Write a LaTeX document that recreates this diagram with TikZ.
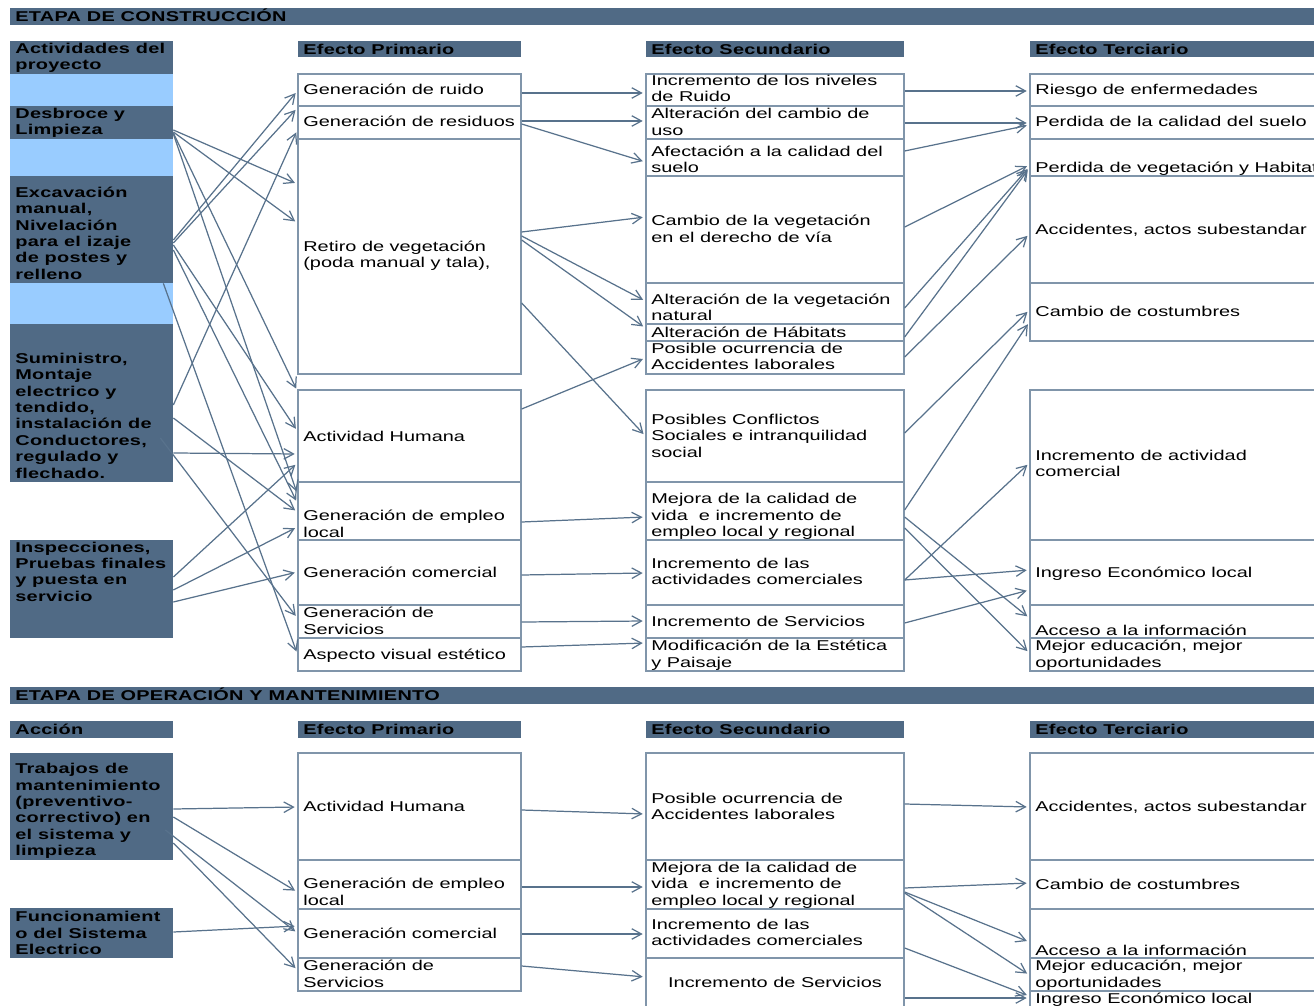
\documentclass[tikz,border=0pt]{standalone}
\usepackage{fontspec}
\newfontfamily\diagfont[FakeStretch=1.4]{Liberation Sans}
\newfontfamily\diagbold[FakeStretch=1.4,LetterSpace=2]{Liberation Sans Bold}
\usetikzlibrary{arrows.meta,fit,calc}
\definecolor{slate}{RGB}{80,106,133}
\definecolor{sky}{RGB}{153,204,255}
\definecolor{rulec}{RGB}{128,149,170}
\definecolor{link}{RGB}{88,114,140}
% \mkbox{style}{name}{x1}{y1}{x2}{y2}: a named rectangle spanning two corners
\newcommand{\mkbox}[6]{\node[#1, fit={(#3,#4) (#5,#6)}] (#2) {};}
\begin{document}
\begin{tikzpicture}[x=0.02cm,y=-0.02cm,
  box/.style={draw=rulec, line width=0.75pt, fill=white, inner sep=0pt},
  band/.style={fill=slate, draw=none, inner sep=0pt},
  pale/.style={fill=sky, draw=none, inner sep=0pt},
  txt/.style={inner sep=0pt, anchor=west, align=left, text=black, yshift=-1.2pt,
    font=\diagfont\fontsize{8.1}{9.3}\selectfont,
    execute at begin node=\strut, execute at end node=\strut},
  btxt/.style={txt, font=\diagbold\fontsize{8.1}{9.3}\selectfont},
  arr/.style={draw=link, line width=0.7pt,
    -{Straight Barb[length=5.5pt,width=6pt]}, shorten >=1.5pt}
]
\useasboundingbox (0,0) rectangle (1314,1006);
\fill[white] (0,0) rectangle (1314,1006);
\clip (0,0) rectangle (1314,1006);

% ---------------- construction stage ----------------
\mkbox{band}{banA}{10}{8}{1330}{25}
\mkbox{band}{hAct}{10}{41}{173}{74}
\mkbox{band}{hPriA}{298}{41}{521}{57}
\mkbox{band}{hSecA}{646}{41}{904}{57}
\mkbox{band}{hTerA}{1030}{41}{1330}{57}
% activities
\mkbox{pale}{gapA}{10}{74}{173}{106}
\mkbox{band}{dsb}{10}{106}{173}{139}
\mkbox{pale}{gapB}{10}{139}{173}{176}
\mkbox{band}{exc}{10}{176}{173}{283}
\mkbox{pale}{gapC}{10}{283}{173}{324}
\mkbox{band}{sum}{10}{324}{173}{482}
\mkbox{band}{insp}{10}{540}{173}{638}
% primary effects
\mkbox{box}{ruido}{298}{74}{521}{106}
\mkbox{box}{resid}{298}{106}{521}{139}
\mkbox{box}{retiro}{298}{139}{521}{374}
\mkbox{box}{acth}{298}{390}{521}{482}
\mkbox{box}{empleo}{298}{482}{521}{540}
\mkbox{box}{comer}{298}{540}{521}{605}
\mkbox{box}{serv}{298}{605}{521}{638}
\mkbox{box}{visual}{298}{638}{521}{671}
% secondary effects
\mkbox{box}{sruido}{646}{74}{904}{106}
\mkbox{box}{suso}{646}{106}{904}{139}
\mkbox{box}{ssuelo}{646}{139}{904}{176}
\mkbox{box}{sveg}{646}{176}{904}{283}
\mkbox{box}{snat}{646}{283}{904}{324}
\mkbox{box}{shab}{646}{324}{904}{341}
\mkbox{box}{sacc}{646}{341}{904}{374}
\mkbox{box}{sconf}{646}{390}{904}{482}
\mkbox{box}{smej}{646}{482}{904}{540}
\mkbox{box}{scom}{646}{540}{904}{605}
\mkbox{box}{sserv}{646}{605}{904}{638}
\mkbox{box}{sest}{646}{638}{904}{671}
% tertiary effects
\mkbox{box}{triesgo}{1030}{74}{1330}{106}
\mkbox{box}{tsuelo}{1030}{106}{1330}{139}
\mkbox{box}{tveg}{1030}{139}{1330}{176}
\mkbox{box}{tacc}{1030}{176}{1330}{283}
\mkbox{box}{tcost}{1030}{283}{1330}{341}
\mkbox{box}{tcom}{1030}{390}{1330}{540}
\mkbox{box}{ting}{1030}{540}{1330}{605}
\mkbox{box}{tinfo}{1030}{605}{1330}{638}
\mkbox{box}{tedu}{1030}{638}{1330}{671}

% ---------------- operation stage ----------------
\mkbox{band}{banB}{10}{687}{1330}{704}
\mkbox{band}{hAcc}{10}{721}{173}{738}
\mkbox{band}{hPriB}{298}{721}{521}{738}
\mkbox{band}{hSecB}{646}{721}{904}{738}
\mkbox{band}{hTerB}{1030}{721}{1330}{738}
\mkbox{band}{trab}{10}{753}{173}{860}
\mkbox{band}{func}{10}{908}{173}{958}
\mkbox{box}{acthB}{298}{753}{521}{860}
\mkbox{box}{empleoB}{298}{860}{521}{909}
\mkbox{box}{comerB}{298}{909}{521}{958}
\mkbox{box}{servB}{298}{958}{521}{991}
\mkbox{box}{saccB}{646}{753}{904}{860}
\mkbox{box}{smejB}{646}{860}{904}{909}
\mkbox{box}{scomB}{646}{909}{904}{958}
\mkbox{box}{sservB}{646}{958}{904}{1030}
\mkbox{box}{taccB}{1030}{753}{1330}{860}
\mkbox{box}{tcostB}{1030}{860}{1330}{909}
\mkbox{box}{tinfoB}{1030}{909}{1330}{958}
\mkbox{box}{teduB}{1030}{958}{1330}{991}
\mkbox{box}{tingB}{1030}{991}{1330}{1030}

% ---------------- labels ----------------
\node[btxt] (lbanA) at (15,16) {ETAPA DE CONSTRUCCIÓN};
\node[btxt] (lhAct) at (15,56.5) {Actividades del\\proyecto};
\node[btxt] (lhPriA) at (303,49) {Efecto Primario};
\node[btxt] (lhSecA) at (651,49) {Efecto Secundario};
\node[btxt] (lhTerA) at (1035,49) {Efecto Terciario};
\node[btxt] (ldsb) at (15,122) {Desbroce y\\Limpieza};
\node[btxt] (lexc) at (15,233.5) {Excavación\\manual,\\Nivelación\\para el izaje\\de postes y\\relleno};
\node[btxt] (lsum) at (15,416) {Suministro,\\Montaje\\electrico y\\tendido,\\instalación de\\Conductores,\\regulado y\\flechado.};
\node[btxt] (linsp) at (15,572) {Inspecciones,\\Pruebas finales\\y puesta en\\servicio};

\node[txt] (lruido) at (303,89) {Generación de ruido};
\node[txt] (lresid) at (303,121) {Generación de residuos};
\node[txt] (lretiro) at (303,254.5) {Retiro de vegetación\\(poda manual y tala),};
\node[txt] (lacth) at (303,436) {Actividad Humana};
\node[txt] (lempleo) at (303,524) {Generación de empleo\\local};
\node[txt] (lcomer) at (303,572) {Generación comercial};
\node[txt] (lserv) at (303,621) {Generación de\\Servicios};
\node[txt] (lvisual) at (303,654) {Aspecto visual estético};

\node[txt] (lsruido) at (651,89) {Incremento de los niveles\\de Ruido};
\node[txt] (lsuso) at (651,122) {Alteración del cambio de\\uso};
\node[txt] (lssuelo) at (651,159.5) {Afectación a la calidad del\\suelo};
\node[txt] (lsveg) at (651,229) {Cambio de la vegetación\\en el derecho de vía};
\node[txt] (lsnat) at (651,307.5) {Alteración de la vegetación\\natural};
\node[txt] (lshab) at (651,332) {Alteración de Hábitats};
\node[txt] (lsacc) at (651,357) {Posible ocurrencia de\\Accidentes laborales};
\node[txt] (lsconf) at (651,436) {Posibles Conflictos\\Sociales e intranquilidad\\social};
\node[txt] (lsmej) at (651,515.5) {Mejora de la calidad de\\vida\ \ e incremento de\\empleo local y regional};
\node[txt] (lscom) at (651,572) {Incremento de las\\actividades comerciales};
\node[txt] (lsserv) at (651,621) {Incremento de Servicios};
\node[txt] (lsest) at (651,654) {Modificación de la Estética\\y Paisaje};

\node[txt] (ltriesgo) at (1035,89) {Riesgo de enfermedades};
\node[txt] (ltsuelo) at (1035,121) {Perdida de la calidad del suelo};
\node[txt] (ltveg) at (1035,167) {Perdida de vegetación y Habitat};
\node[txt] (ltacc) at (1035,229) {Accidentes, actos subestandar};
\node[txt] (ltcost) at (1035,311) {Cambio de costumbres};
\node[txt] (ltcom) at (1035,464) {Incremento de actividad\\comercial};
\node[txt] (lting) at (1035,572) {Ingreso Económico local};
\node[txt] (ltinfo) at (1035,630) {Acceso a la información};
\node[txt] (ltedu) at (1035,654) {Mejor educación, mejor\\oportunidades};

\node[btxt] (lbanB) at (15,695) {ETAPA DE OPERACIÓN Y MANTENIMIENTO};
\node[btxt] (lhAcc) at (15,729) {Acción};
\node[btxt] (lhPriB) at (303,729) {Efecto Primario};
\node[btxt] (lhSecB) at (651,729) {Efecto Secundario};
\node[btxt] (lhTerB) at (1035,729) {Efecto Terciario};
\node[btxt] (ltrab) at (15,810) {Trabajos de\\mantenimiento\\(preventivo-\\correctivo) en\\el sistema y\\limpieza};
\node[btxt] (lfunc) at (15,933.5) {Funcionamient\\o del Sistema\\Electrico};
\node[txt] (lacthB) at (303,806) {Actividad Humana};
\node[txt] (lempleoB) at (303,892) {Generación de empleo\\local};
\node[txt] (lcomerB) at (303,933) {Generación comercial};
\node[txt] (lservB) at (303,974) {Generación de\\Servicios};
\node[txt] (lsaccB) at (651,806.5) {Posible ocurrencia de\\Accidentes laborales};
\node[txt] (lsmejB) at (651,884) {Mejora de la calidad de\\vida\ \ e incremento de\\empleo local y regional};
\node[txt] (lscomB) at (651,933) {Incremento de las\\actividades comerciales};
\node[txt, anchor=center] (lsservB) at (775,982) {Incremento de Servicios};
\node[txt] (ltaccB) at (1035,806) {Accidentes, actos subestandar};
\node[txt] (ltcostB) at (1035,884) {Cambio de costumbres};
\node[txt] (ltinfoB) at (1035,950) {Acceso a la información};
\node[txt] (lteduB) at (1035,974) {Mejor educación, mejor\\oportunidades};
\node[txt] (ltingB) at (1035,998) {Ingreso Económico local};

% ---------------- connectors: construction ----------------
\coordinate (excfoot) at ($(exc.south east)+(-10,0)$);
\coordinate (sumin) at ($(sum.east |- 0,438)+(-13,0)$);
\draw[arr] (dsb.east |- 0,130) -- (retiro.west |- 0,184);
\draw[arr] (dsb.east |- 0,132) -- (retiro.west |- 0,223);
\draw[arr] (dsb.east |- 0,133) -- (acth.west |- 0,391);
\draw[arr] (dsb.east |- 0,134) -- (empleo.west |- 0,494);
\draw[arr] (exc.east |- 0,240) -- (ruido.west |- 0,91);
\draw[arr] (exc.east |- 0,243) -- (resid.west |- 0,108);
\draw[arr] (exc.east |- 0,245) -- (acth.west |- 0,431);
\draw[arr] (exc.east |- 0,250) -- (empleo.west |- 0,503);
\draw[arr] (excfoot) -- (visual.west |- 0,654);
\draw[arr] (sum.east |- 0,405) -- (resid.west |- 0,130);
\draw[arr] (sum.east |- 0,418) -- (empleo.west |- 0,512);
\draw[arr] (sum.east |- 0,453) -- (acth.west |- 0,454);
\draw[arr] (sumin) -- (serv.west |- 0,618);
\draw[arr] (insp.east |- 0,577) -- (acth.west |- 0,463);
\draw[arr] (insp.east |- 0,590) -- (empleo.west |- 0,527);
\draw[arr] (insp.east |- 0,602) -- (comer.west |- 0,572);

\draw[arr] (ruido.east |- 0,93) -- (sruido.west |- 0,93);
\draw[arr] (resid.east |- 0,121) -- (suso.west |- 0,121);
\draw[arr] (resid.east |- 0,124) -- (ssuelo.west |- 0,162);
\draw[arr] (retiro.east |- 0,232) -- (sveg.west |- 0,217);
\draw[arr] (retiro.east |- 0,236) -- (snat.west |- 0,301);
\draw[arr] (retiro.east |- 0,240) -- (shab.west |- 0,328);
\draw[arr] (retiro.east |- 0,303) -- (sconf.west |- 0,436);
\draw[arr] (acth.east |- 0,409) -- (sacc.west |- 0,358);
\draw[arr] (empleo.east |- 0,522) -- (smej.west |- 0,517);
\draw[arr] (comer.east |- 0,575) -- (scom.west |- 0,573);
\draw[arr] (serv.east |- 0,622) -- (sserv.west |- 0,621);
\draw[arr] (visual.east |- 0,647) -- (sest.west |- 0,643);

\draw[arr] (sruido.east |- 0,91) -- (triesgo.west |- 0,91);
\draw[arr] (suso.east |- 0,123) -- (tsuelo.west |- 0,123);
\draw[arr] (ssuelo.east |- 0,151) -- (tsuelo.west |- 0,125);
\draw[arr] (sveg.east |- 0,227) -- (tveg.west |- 0,165);
\draw[arr] (snat.east |- 0,308) -- (tveg.west |- 0,167);
\draw[arr] (shab.east |- 0,337) -- (tveg.west |- 0,168);
\draw[arr] (sacc.east |- 0,357) -- (tacc.west |- 0,234);
\draw[arr] (sconf.east |- 0,433) -- (tcost.west |- 0,310);
\draw[arr] (smej.east |- 0,510) -- (tcost.west |- 0,322);
\draw[arr] (smej.east |- 0,517) -- (tinfo.west |- 0,618);
\draw[arr] (smej.east |- 0,528) -- (tedu.west |- 0,653);
\draw[arr] (scom.east |- 0,580) -- (tcom.west |- 0,463);
\draw[arr] (scom.east |- 0,580) -- (ting.west |- 0,570);
\draw[arr] (sserv.east |- 0,623) -- (ting.west |- 0,590);

% ---------------- connectors: operation ----------------
\coordinate (trabin) at ($(trab.east |- 0,830)+(-8,0)$);
\draw[arr] (trab.east |- 0,809) -- (acthB.west |- 0,807);
\draw[arr] (trab.east |- 0,817) -- (empleoB.west |- 0,892);
\draw[arr] (trabin) -- (comerB.west |- 0,933);
\draw[arr] (trab.east |- 0,843) -- (servB.west |- 0,970);
\draw[arr] (func.east |- 0,932) -- (comerB.west |- 0,926);
\draw[arr] (acthB.east |- 0,810) -- (saccB.west |- 0,814);
\draw[arr] (empleoB.east |- 0,887) -- (smejB.west |- 0,887);
\draw[arr] (comerB.east |- 0,934) -- (scomB.west |- 0,934);
\draw[arr] (servB.east |- 0,966) -- (sservB.west |- 0,977);
\draw[arr] (saccB.east |- 0,804) -- (taccB.west |- 0,807);
\draw[arr] (smejB.east |- 0,888) -- (tcostB.west |- 0,883);
\draw[arr] (smejB.east |- 0,892) -- (tinfoB.west |- 0,942);
\draw[arr] (smejB.east |- 0,893) -- (teduB.west |- 0,975);
\draw[arr] (scomB.east |- 0,948) -- (tingB.west |- 0,996);
\draw[arr] (sservB.east |- 0,998) -- (tingB.west |- 0,998);
\end{tikzpicture}
\end{document}
